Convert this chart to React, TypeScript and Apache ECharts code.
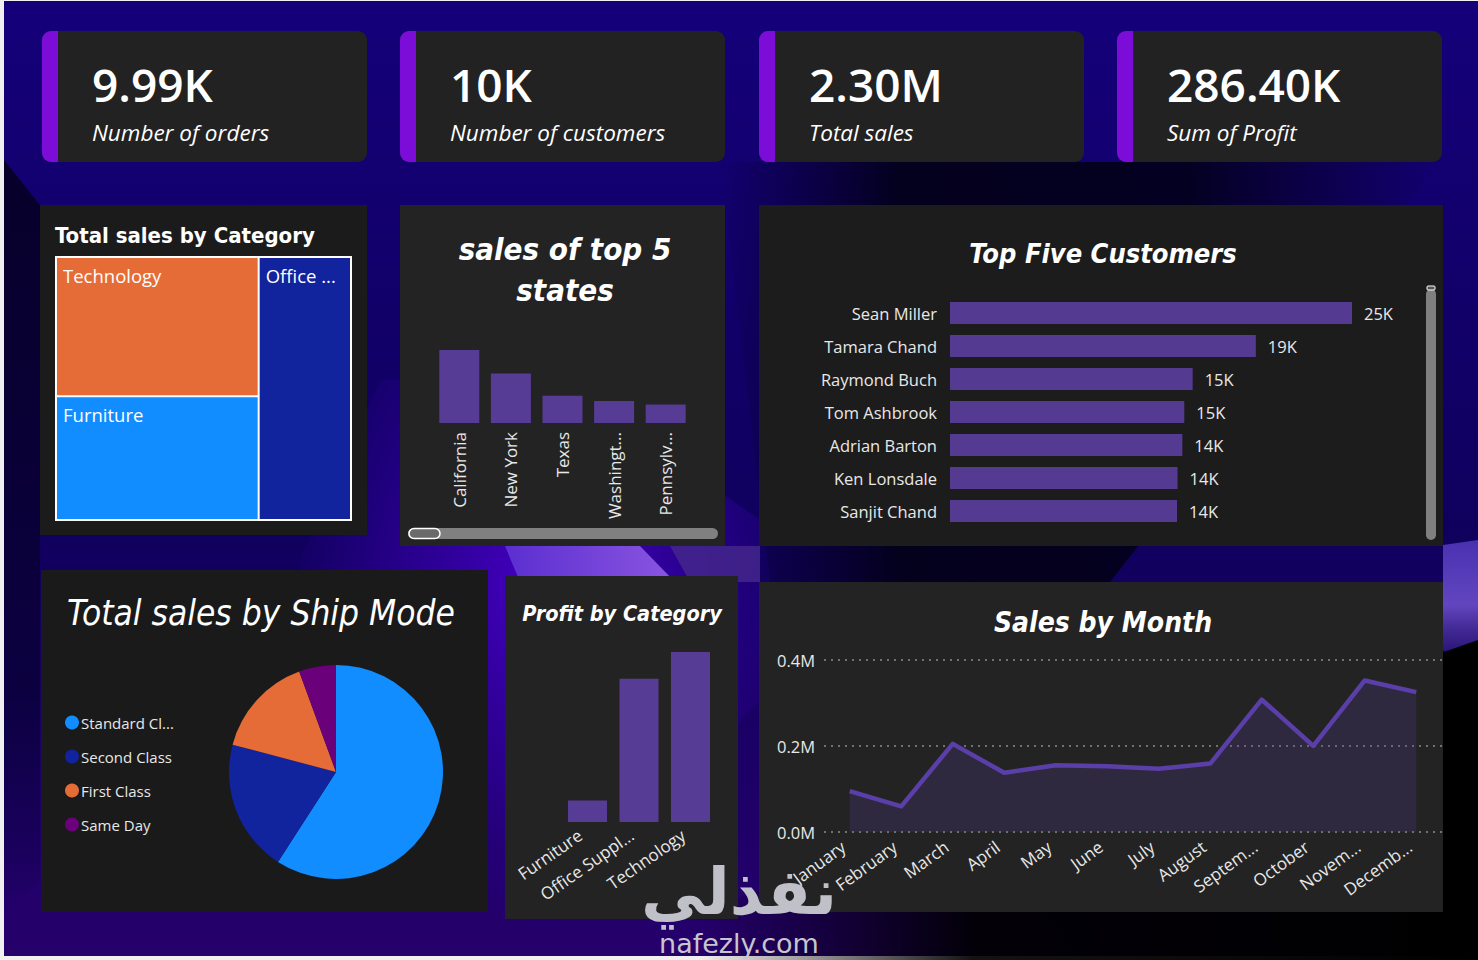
import React, { useEffect, useRef } from "react";
import * as echarts from "echarts";

// ---------- DATA ----------
const kpiValues = ["9.99K", "10K", "2.30M", "286.40K"];
const kpiLabels = ["Number of orders", "Number of customers", "Total sales", "Sum of Profit"];

const categoryNames = ["Technology", "Furniture", "Office ..."];
const categorySales = [836154, 741999, 719047];
const categoryColors = ["#E66C37", "#118DFF", "#12239E"];

const stateNames = ["California", "New York", "Texas", "Washingt...", "Pennsylv..."];
const stateSales = [457688, 310876, 170188, 138641, 116512];

const customerNames = ["Sean Miller", "Tamara Chand", "Raymond Buch", "Tom Ashbrook", "Adrian Barton", "Ken Lonsdale", "Sanjit Chand"];
const customerSales = [25043, 19052, 15117, 14596, 14474, 14175, 14142];

const shipModes = ["Standard Cl...", "Second Class", "First Class", "Same Day"];
const shipSales = [1358216, 459194, 351428, 128363];
const shipColors = ["#118DFF", "#12239E", "#E66C37", "#6B007B"];

const profitCategories = ["Furniture", "Office Suppl...", "Technology"];
const profitValues = [18451, 122491, 145455];

const months = ["January", "February", "March", "April", "May", "June", "July", "August", "Septem...", "October", "Novem...", "Decemb..."];
const monthSales = [94925, 59751, 205005, 137762, 155029, 152719, 147238, 159044, 307650, 200323, 352461, 325294];
const monthAxisMax = 400000;
const monthAxisStep = 200000;

// ---------- STYLE ----------
const UI = "'Open Sans', 'Noto Sans', sans-serif";
const TITLE = "'DejaVu Sans Condensed', 'DejaVu Sans', sans-serif";
const BAR = "#573C95";
const LABEL = "#e8e8e8";

function txt(text: string, x: number, y: number, o: any = {}) {
  const align = o.align || "left";
  return {
    type: "text",
    x,
    y,
    z: o.z || 5,
    style: {
      text,
      fill: o.fill || "#ffffff",
      fontSize: o.size || 16,
      fontFamily: o.family || UI,
      fontWeight: o.weight || "normal",
      fontStyle: o.italic ? "italic" : "normal",
      align,
      textAlign: align,
      verticalAlign: "middle",
      textVerticalAlign: "middle",
    },
  };
}

function rect(x: number, y: number, w: number, h: number, fill: any, o: any = {}) {
  return {
    type: "rect",
    z: o.z ?? -9,
    shape: { x, y, width: w, height: h, r: o.r || 0 },
    style: { fill, stroke: o.stroke || null, lineWidth: o.lw || 0 },
  };
}

function poly(points: number[][], fill: any) {
  return { type: "polygon", z: -10, shape: { points }, style: { fill } };
}

const lin = (x2: number, y2: number, stops: [number, string][]) => ({
  type: "linear",
  x: 0,
  y: 0,
  x2,
  y2,
  colorStops: stops.map(([offset, color]) => ({ offset, color })),
});

export default function App() {
  const ref = useRef<HTMLDivElement>(null);

  useEffect(() => {
    if (!ref.current) return;
    const chart = echarts.init(ref.current, null, { renderer: "svg", width: 1478, height: 960 });

    const background = [
      rect(4, 1, 1474, 955, lin(0, 1, [[0, "#15007a"], [0.55, "#10005e"], [1, "#26006c"]]), { z: -11 }),
      poly([[4, 160], [40, 205], [40, 880], [4, 910]], lin(0, 1, [[0, "#07002a"], [0.7, "#0c0040"], [1, "rgba(12,0,64,0)"]])),
      poly([[720, 162], [1440, 162], [1110, 582], [770, 582]], lin(1, 0, [[0, "rgba(3,0,30,0)"], [0.25, "rgba(3,0,25,0.95)"], [0.65, "rgba(3,0,25,0.9)"], [1, "rgba(3,0,30,0)"]])),
      poly([[300, 560], [380, 380], [560, 380], [760, 520], [760, 700], [520, 960], [300, 960]], {
        type: "radial", x: 0.55, y: 0.35, r: 0.6,
        colorStops: [{ offset: 0, color: "#4a00cc" }, { offset: 0.6, color: "rgba(50,0,160,0.6)" }, { offset: 1, color: "rgba(40,0,140,0)" }],
      }),
      poly([[505, 546], [640, 546], [675, 582], [520, 582]], lin(1, 0, [[0, "#5b2ed0"], [1, "#8a55e0"]])),
      poly([[670, 546], [760, 546], [760, 582], [690, 582]], "rgba(70,40,140,0.8)"),
      poly([[1443, 545], [1478, 540], [1478, 670], [1443, 650]], lin(0, 1, [[0, "#4a30b0"], [0.5, "#6246c0"], [1, "rgba(40,20,110,0.5)"]])),
      poly([[700, 912], [1478, 640], [1478, 960], [700, 960]], lin(1, 0, [[0, "rgba(0,0,0,0)"], [0.35, "rgba(0,0,0,0.92)"], [1, "#000000"]])),
    ];

    const cardX = [42, 400, 759, 1117];
    const cards: any[] = [];
    cardX.forEach((x, i) => {
      cards.push(rect(x, 31, 325, 131, "#222222", { r: 9, z: -9 }));
      cards.push(rect(x, 31, 16, 131, "#7C0CD8", { r: [9, 0, 0, 9], z: -8 }));
      cards.push(txt(kpiValues[i], x + 50, 84, { size: 46, weight: 600 }));
      cards.push(txt(kpiLabels[i], x + 50, 132, { size: 22.5, italic: true }));
    });

    const panels = [
      rect(40, 205, 327, 330, "#1b1b1b"),
      rect(400, 205, 325, 341, "#232323"),
      rect(759, 205, 684, 341, "#1c1c1c"),
      rect(41, 570, 447, 342, "#1a1a1a"),
      rect(505, 576, 233, 343, "#232323"),
      rect(759, 582, 684, 330, "#232323"),
    ];

    const titles = [
      txt("Total sales by Category", 55, 235, { size: 22, weight: "bold", family: TITLE }),
      txt("sales of top 5", 565, 249, { size: 31, weight: "bold", italic: true, family: TITLE, align: "center" }),
      txt("states", 565, 290, { size: 31, weight: "bold", italic: true, family: TITLE, align: "center" }),
      txt("Top Five Customers", 1103, 253, { size: 27, weight: "bold", italic: true, family: TITLE, align: "center" }),
      txt("Total sales by Ship Mode", 67, 613, { size: 35, italic: true, family: TITLE }),
      txt("Profit by Category", 622, 613, { size: 21.5, weight: "bold", italic: true, family: TITLE, align: "center" }),
      txt("Sales by Month", 1103, 622, { size: 28, weight: "bold", italic: true, family: TITLE, align: "center" }),
    ];

    const scrollbars = [
      rect(408, 528, 310, 11, "#808080", { r: 5.5, z: 3 }),
      rect(409, 528.5, 31, 10, "#6a6a6a", { r: 5, z: 4, stroke: "#ffffff", lw: 1.5 }),
      rect(1426, 289, 10, 251, "#7f7f7f", { r: 5, z: 3 }),
      rect(1427, 286, 8, 4, "#555555", { r: 1, z: 4, stroke: "#ffffff", lw: 1 }),
    ];

    const watermark = [
      txt("نفذلي", 739, 892, { size: 64, weight: "bold", family: "'DejaVu Sans', sans-serif", fill: "#c0c0c8", align: "center", z: 100 }),
      txt("nafezly.com", 739, 943, { size: 27, family: "'DejaVu Sans', sans-serif", fill: "#c6c6cc", align: "center", z: 100 }),
    ];

    const hiddenCat = {
      axisLine: { show: false },
      axisTick: { show: false },
      splitLine: { show: false },
    };

    const option: any = {
      animation: false,
      backgroundColor: "transparent",
      graphic: { elements: [...background, ...cards, ...panels, ...titles, ...scrollbars, ...watermark] },
      legend: {
        data: shipModes,
        orient: "vertical",
        left: 60,
        top: 710,
        icon: "circle",
        itemWidth: 14,
        itemHeight: 14,
        itemGap: 19,
        selectedMode: false,
        textStyle: { color: LABEL, fontSize: 15, fontFamily: UI, padding: [0, 0, 0, -3] },
      },
      grid: [
        { left: 433.5, top: 350, width: 258, height: 73 },
        { left: 950, top: 296.5, width: 402, height: 231 },
        { left: 561.75, top: 652, width: 154.5, height: 170 },
        { left: 824, top: 660, width: 618, height: 172 },
      ],
      xAxis: [
        {
          type: "category", gridIndex: 0, data: stateNames, ...hiddenCat,
          axisLabel: { rotate: 90, margin: 9, color: LABEL, fontSize: 17, fontFamily: UI, interval: 0 },
        },
        { type: "value", gridIndex: 1, min: 0, max: customerSales[0], show: false },
        {
          type: "category", gridIndex: 2, data: profitCategories, ...hiddenCat,
          axisLabel: { rotate: 35, margin: 6, color: LABEL, fontSize: 17, fontFamily: UI, interval: 0, padding: [0, 9, 0, 0] },
        },
        {
          type: "category", gridIndex: 3, data: months, boundaryGap: true, ...hiddenCat,
          axisLabel: { rotate: 36, margin: 8, color: LABEL, fontSize: 17, fontFamily: UI, interval: 0, padding: [0, 8, 0, 0] },
        },
      ],
      yAxis: [
        { type: "value", gridIndex: 0, min: 0, max: stateSales[0], show: false },
        {
          type: "category", gridIndex: 1, data: customerNames, inverse: true, ...hiddenCat,
          axisLabel: { color: LABEL, fontSize: 16.5, fontFamily: UI, margin: 13 },
        },
        { type: "value", gridIndex: 2, min: 0, max: profitValues[2], show: false },
        {
          type: "value", gridIndex: 3, min: 0, max: monthAxisMax, interval: monthAxisStep,
          axisLine: { show: false }, axisTick: { show: false },
          axisLabel: { color: LABEL, fontSize: 16.5, fontFamily: UI, margin: 9, formatter: (v: number) => (v / 1e6).toFixed(1) + "M" },
          splitLine: { lineStyle: { type: [2, 5], color: "#8c8c8c", width: 1.5 } },
        },
      ],
      series: [
        {
          type: "treemap",
          z: 3,
          left: 55, top: 256, width: 297, height: 265,
          roam: false, nodeClick: false,
          breadcrumb: { show: false },
          itemStyle: { borderColor: "#ffffff", borderWidth: 1, gapWidth: 0 },
          label: { show: true, position: "insideTopLeft", color: "#ffffff", fontSize: 18.5, fontFamily: UI, padding: [8, 6] },
          upperLabel: { show: false },
          data: categoryNames.map((n, i) => ({ name: n, value: categorySales[i], itemStyle: { color: categoryColors[i] } })),
        },
        {
          type: "bar", xAxisIndex: 0, yAxisIndex: 0, data: stateSales, barWidth: 40,
          itemStyle: { color: BAR },
        },
        {
          type: "bar", xAxisIndex: 1, yAxisIndex: 1, data: customerSales, barWidth: 22,
          itemStyle: { color: "#553A92" },
          label: {
            show: true, position: "right", distance: 12, color: LABEL, fontSize: 16.5, fontFamily: UI,
            formatter: (p: any) => Math.round(p.value / 1000) + "K",
          },
        },
        {
          type: "bar", xAxisIndex: 2, yAxisIndex: 2, data: profitValues, barWidth: 39,
          itemStyle: { color: BAR },
        },
        {
          type: "line", xAxisIndex: 3, yAxisIndex: 3, data: monthSales, symbol: "none",
          lineStyle: { color: "#5B3FA8", width: 4.5, join: "round" },
          areaStyle: { color: "rgba(88,62,160,0.32)" },
        },
        {
          type: "pie", center: [336, 772], radius: 107, startAngle: 90, clockwise: true,
          label: { show: false }, labelLine: { show: false },
          data: shipModes.map((n, i) => ({ name: n, value: shipSales[i], itemStyle: { color: shipColors[i] } })),
        },
      ],
    };

    chart.setOption(option);
    return () => chart.dispose();
  }, []);

  return (
    <div
      ref={ref}
      style={{ position: "fixed", left: 0, top: 0, width: 1478, height: 960, background: "#f0f0f0" }}
    />
  );
}
